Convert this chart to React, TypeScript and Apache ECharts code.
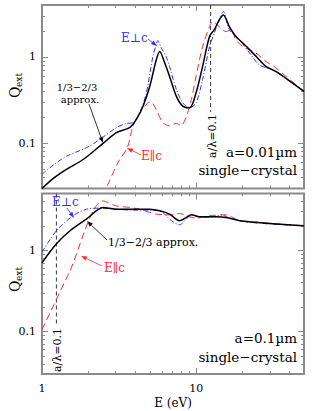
import React, { useEffect, useRef } from "react";
import * as echarts from "echarts";

// ---------- data (photon energy E in eV, extinction efficiency Q_ext) ----------
const topBlackE = [1.0, 1.2, 1.44, 1.85, 2.49, 3.04, 3.7, 4.09, 4.52, 5.0, 5.51, 5.8, 6.25, 6.71, 7.44, 8.18, 9.06, 9.98, 11.0, 12.2, 13.1, 14.1, 15.0, 16.4, 18.1, 21.1, 24.4, 28.3, 32.8, 38.0, 50];
const topBlackQ = [0.030, 0.040, 0.050, 0.065, 0.100, 0.133, 0.152, 0.189, 0.269, 0.458, 0.93, 1.16, 0.85, 0.60, 0.35, 0.27, 0.258, 0.385, 0.78, 1.73, 2.07, 2.69, 3.07, 2.25, 1.73, 1.33, 1.02, 0.78, 0.68, 0.57, 0.40];

const topBlueE = [1.0, 1.2, 1.44, 1.94, 2.37, 3.04, 3.52, 3.89, 4.3, 4.74, 5.24, 5.51, 5.64, 5.9, 6.4, 6.71, 7.44, 8.18, 9.06, 9.98, 11.0, 12.2, 13.1, 14.1, 15.0, 16.4, 19.1, 22.2, 25.7, 31.2, 36.2, 50];
const topBlueQ = [0.044, 0.057, 0.071, 0.089, 0.111, 0.152, 0.170, 0.173, 0.226, 0.38, 1.02, 1.39, 1.55, 1.3, 1.0, 0.78, 0.42, 0.295, 0.258, 0.295, 0.55, 1.32, 1.89, 2.69, 3.36, 2.07, 1.58, 1.11, 0.81, 0.71, 0.60, 0.40];

const topRedE = [2.45, 2.62, 3.11, 3.57, 3.89, 4.3, 4.86, 5.1, 5.5, 6.08, 6.71, 7.44, 7.98, 8.63, 9.3, 9.98, 11.0, 12.2, 12.8, 14.1, 15.6, 16.8, 18.1, 20.0, 22.2, 24.4, 28.3, 32.8, 38.0, 50];
const topRedQ = [0.025, 0.031, 0.060, 0.089, 0.158, 0.226, 0.295, 0.30, 0.246, 0.173, 0.16, 0.17, 0.16, 0.206, 0.32, 0.60, 1.32, 2.25, 2.57, 2.25, 1.97, 2.07, 1.58, 1.32, 1.21, 1.11, 0.89, 0.75, 0.60, 0.40];

const botBlackE = [1.0, 1.24, 1.52, 1.94, 2.49, 3.04, 3.89, 5.0, 5.79, 6.71, 7.8, 8.63, 9.3, 10.5, 13.4, 15.6, 19.1, 24.4, 32.8, 50];
const botBlackQ = [0.70, 1.2, 1.74, 2.42, 3.37, 3.2, 3.2, 3.2, 3.06, 2.79, 2.31, 2.54, 2.73, 2.59, 2.59, 2.54, 2.31, 2.21, 2.1, 2.0];

const botBlueE = [1.0, 1.24, 1.59, 1.94, 2.37, 3.04, 3.89, 5.0, 5.5, 6.08, 6.71, 7.8, 8.63, 9.3, 11.0, 13.4, 14.7, 16.0, 22.2, 50];
const botBlueQ = [0.95, 1.74, 2.66, 3.2, 3.3, 3.2, 3.12, 3.12, 3.12, 2.92, 2.42, 2.06, 2.42, 2.73, 2.54, 2.59, 2.73, 2.54, 2.21, 2.0];

const botRedE = [1.0, 1.5, 2.49, 3.04, 3.7, 4.3, 5.0, 5.5, 6.71, 7.8, 8.63, 10.0, 12.2, 15.6, 19.1, 24.4, 50];
const botRedQ = [0.105, 0.53, 4.05, 3.52, 3.37, 3.2, 2.92, 2.79, 2.73, 2.84, 2.66, 2.49, 2.66, 2.73, 2.31, 2.21, 2.0];

// a/lambda = 0.1 markers
const topMarkerE = 12.4;
const topMarkerQ = [4, 0.23];
const botMarkerE = 1.24;
const botMarkerQ = [5, 0.125];

// axes
const X_RANGE = [1, 50];
const TOP_Y_RANGE = [0.03, 4];
const BOT_Y_RANGE = [0.03, 5];
const X_MAJOR = [1, 10];
const X_MINOR = [2, 3, 4, 5, 6, 7, 8, 9, 20, 30, 40];
const Y_MAJOR = [0.1, 1];
const Y_MINOR = [0.03, 0.04, 0.05, 0.06, 0.07, 0.08, 0.09, 0.2, 0.3, 0.4, 0.5, 0.6, 0.7, 0.8, 0.9, 2, 3, 4, 5];

const LOG = (v: number) => Math.log10(v);
const FRAME = "#8a8a8a";
const BLUE = "#2f2fff";
const RED = "#ff2b2b";
const SERIF = "DejaVu Serif";

const fmt = (v: number) => {
  const r = Math.round(v);
  if (r === -1) return "0.1";
  if (r === 0) return "1";
  if (r === 1) return "10";
  return "";
};

function xAxis(grid: number, pos: "top" | "bottom", vals: number[], len: number, labels: boolean) {
  return {
    type: "value",
    gridIndex: grid,
    position: pos,
    min: LOG(X_RANGE[0]),
    max: LOG(X_RANGE[1]),
    axisLine: { show: false, onZero: false },
    splitLine: { show: false },
    axisTick: { show: true, inside: true, length: len, customValues: vals.map(LOG), lineStyle: { color: FRAME, width: 1 } },
    axisLabel: {
      show: labels,
      customValues: X_MAJOR.map(LOG),
      formatter: fmt,
      color: "#000",
      fontFamily: SERIF,
      fontSize: 11,
      margin: 9,
    },
  };
}

function yAxis(grid: number, pos: "left" | "right", range: number[], vals: number[], len: number, labels: boolean) {
  return {
    type: "value",
    gridIndex: grid,
    position: pos,
    min: LOG(range[0]),
    max: LOG(range[1]),
    axisLine: { show: false, onZero: false },
    splitLine: { show: false },
    axisTick: {
      show: true,
      inside: true,
      length: len,
      customValues: vals.filter((v) => v >= range[0] && v <= range[1]).map(LOG),
      lineStyle: { color: FRAME, width: 1 },
    },
    axisLabel: {
      show: labels,
      customValues: Y_MAJOR.map(LOG),
      formatter: fmt,
      color: "#000",
      fontFamily: SERIF,
      fontSize: 11,
      margin: 6,
    },
  };
}

const pairs = (E: number[], Q: number[]) => E.map((e, i) => [LOG(e), LOG(Q[i])]);

function curve(name: string, E: number[], Q: number[], xi: number, yi: number, color: string, width: number, type: any) {
  return {
    name,
    type: "line",
    xAxisIndex: xi,
    yAxisIndex: yi,
    data: pairs(E, Q),
    showSymbol: false,
    smooth: 0.3,
    clip: true,
    lineStyle: { color, width, type },
    z: 3,
  };
}

function arrow(x1: number, y1: number, x2: number, y2: number, color: string) {
  const ang = Math.atan2(y2 - y1, x2 - x1);
  const L = 6;
  const W = 2.2;
  const bx = x2 - L * Math.cos(ang);
  const by = y2 - L * Math.sin(ang);
  const px = -Math.sin(ang) * W;
  const py = Math.cos(ang) * W;
  return [
    { type: "line", shape: { x1, y1, x2: bx, y2: by }, style: { stroke: color, lineWidth: 0.8 } },
    { type: "polygon", shape: { points: [[x2, y2], [bx + px, by + py], [bx - px, by - py]] }, style: { fill: color } },
  ];
}

function text(x: number, y: number, t: string, size: number, color: string, align: string = "left") {
  return {
    type: "text",
    x,
    y,
    style: { text: t, fontFamily: SERIF, fontSize: size, fill: color, align, verticalAlign: "middle" },
  };
}

function rotText(x: number, y: number, t: string, size: number) {
  return {
    type: "group",
    x,
    y,
    rotation: Math.PI / 2,
    children: [
      { type: "text", x: 0, y: 0, style: { text: t, fontFamily: SERIF, fontSize: size, fill: "#000", align: "center", verticalAlign: "middle" } },
    ],
  };
}

function qLabel(x: number, y: number) {
  return {
    type: "group",
    x,
    y,
    rotation: Math.PI / 2,
    children: [
      { type: "text", x: 0, y: 0, style: { text: "Q", fontFamily: SERIF, fontSize: 14, fill: "#000", align: "left", verticalAlign: "middle" } },
      { type: "text", x: 11, y: 4, style: { text: "ext", fontFamily: SERIF, fontSize: 9, fill: "#000", align: "left", verticalAlign: "middle" } },
    ],
  };
}

export default function App() {
  const ref = useRef<HTMLDivElement>(null);
  useEffect(() => {
    if (!ref.current) return;
    const chart = echarts.init(ref.current, undefined, { renderer: "svg" });
    const L = 42;
    const W = 262;
    const grids = [
      { left: L, top: 5, width: W, height: 183.5 },
      { left: L, top: 193.5, width: W, height: 180.5 },
    ].map((g) => ({ ...g, show: true, borderColor: FRAME, borderWidth: 2, backgroundColor: "transparent", containLabel: false }));

    const xAxes = [
      xAxis(0, "bottom", X_MAJOR, 6, false),
      xAxis(0, "bottom", X_MINOR, 3, false),
      xAxis(0, "top", X_MAJOR, 6, false),
      xAxis(0, "top", X_MINOR, 3, false),
      xAxis(1, "bottom", X_MAJOR, 6, true),
      xAxis(1, "bottom", X_MINOR, 3, false),
      xAxis(1, "top", X_MAJOR, 6, false),
      xAxis(1, "top", X_MINOR, 3, false),
    ];
    const yAxes = [
      yAxis(0, "left", TOP_Y_RANGE, Y_MAJOR, 6, true),
      yAxis(0, "left", TOP_Y_RANGE, Y_MINOR, 3, false),
      yAxis(0, "right", TOP_Y_RANGE, Y_MAJOR, 6, false),
      yAxis(0, "right", TOP_Y_RANGE, Y_MINOR, 3, false),
      yAxis(1, "left", BOT_Y_RANGE, Y_MAJOR, 6, true),
      yAxis(1, "left", BOT_Y_RANGE, Y_MINOR, 3, false),
      yAxis(1, "right", BOT_Y_RANGE, Y_MAJOR, 6, false),
      yAxis(1, "right", BOT_Y_RANGE, Y_MINOR, 3, false),
    ];

    const dashBD = [5, 2, 1, 2];
    const dashR = [7, 4];

    const series = [
      curve("top E∥c", topRedE, topRedQ, 0, 0, RED, 1, dashR),
      curve("top E⊥c", topBlueE, topBlueQ, 0, 0, BLUE, 1, dashBD),
      curve("top 1/3-2/3", topBlackE, topBlackQ, 0, 0, "#000", 1.5, "solid"),
      curve("bot E∥c", botRedE, botRedQ, 4, 4, RED, 1, dashR),
      curve("bot E⊥c", botBlueE, botBlueQ, 4, 4, BLUE, 1, dashBD),
      curve("bot 1/3-2/3", botBlackE, botBlackQ, 4, 4, "#000", 1.5, "solid"),
      {
        type: "line",
        xAxisIndex: 0,
        yAxisIndex: 0,
        data: topMarkerQ.map((q) => [LOG(topMarkerE), LOG(q)]),
        showSymbol: false,
        lineStyle: { color: "#222", width: 0.9, type: [4, 3] },
        z: 2,
      },
      {
        type: "line",
        xAxisIndex: 4,
        yAxisIndex: 4,
        data: botMarkerQ.map((q) => [LOG(botMarkerE), LOG(q)]),
        showSymbol: false,
        lineStyle: { color: "#222", width: 0.9, type: [4, 3] },
        z: 2,
      },
    ];

    const graphic: any[] = [
      qLabel(15, 98),
      qLabel(15, 292),
      text(173, 403, "E (eV)", 12, "#000", "center"),
      // top panel
      text(121, 38, "E⊥c", 12, BLUE),
      ...arrow(148, 39, 157, 46, BLUE),
      text(77, 87, "1/3−2/3", 10, "#000", "center"),
      text(80, 99, "approx.", 10, "#000", "center"),
      ...arrow(89, 104, 103, 143, "#000"),
      text(141, 156, "E∥c", 12, RED),
      ...arrow(141, 155, 127, 148, RED),
      rotText(212, 136, "a/λ=0.1", 11),
      text(297, 152, "a=0.01µm", 13.5, "#000", "right"),
      text(297, 170, "single−crystal", 13.5, "#000", "right"),
      // bottom panel
      text(52, 202, "E⊥c", 12, BLUE),
      ...arrow(67, 208, 74, 218, BLUE),
      text(108, 242, "1/3−2/3 approx.", 11, "#000"),
      ...arrow(107, 240, 87, 221, "#000"),
      text(104, 268, "E∥c", 12, RED),
      ...arrow(102, 266, 81, 256, RED),
      rotText(57, 350, "a/λ=0.1", 11),
      text(297, 338, "a=0.1µm", 13.5, "#000", "right"),
      text(297, 357, "single−crystal", 13.5, "#000", "right"),
    ];

    chart.setOption({
      animation: false,
      grid: grids,
      xAxis: xAxes,
      yAxis: yAxes,
      series,
      graphic,
    });
    return () => chart.dispose();
  }, []);
  return <div ref={ref} style={{ position: "fixed", left: 0, top: 0, width: 314, height: 411, background: "#fff" }} />;
}
